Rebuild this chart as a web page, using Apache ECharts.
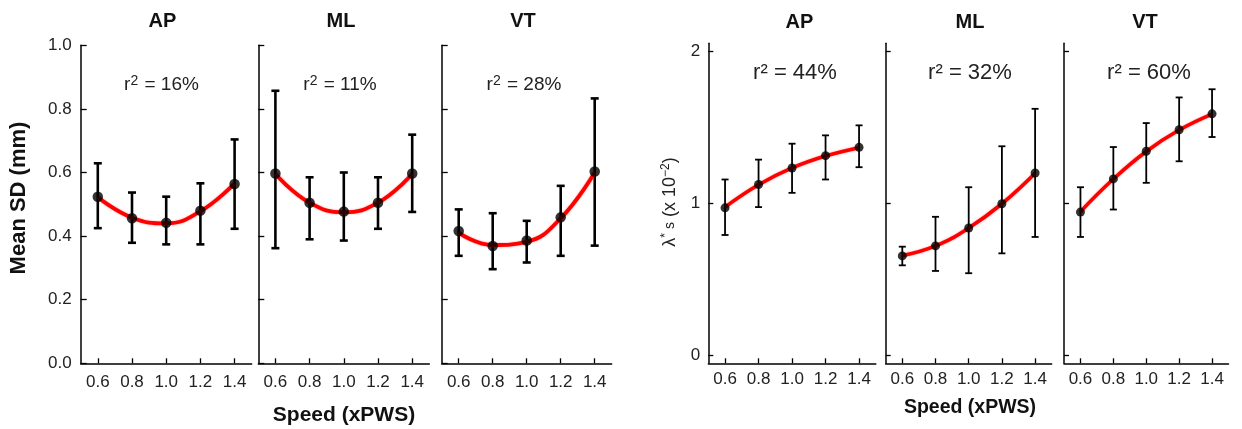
<!DOCTYPE html>
<html>
<head>
<meta charset="utf-8">
<script src="https://cdn.jsdelivr.net/npm/echarts@6/dist/echarts.min.js"></script>
<style>
html,body{margin:0;padding:0;background:#fff;}
#c{width:1242px;height:429px;}
</style>
</head>
<body>
<div id="c"></div>
<script>
// ---------- data ----------
const speeds = [0.6, 0.8, 1.0, 1.2, 1.4];
const xTickLabels = ['0.6', '0.8', '1.0', '1.2', '1.4'];
const leftYTicks = [0, 0.2, 0.4, 0.6, 0.8, 1.0];
const rightYTicks = [0, 1, 2];
const panelTitles = ['AP', 'ML', 'VT'];
const leftR2 = ['16%', '11%', '28%'];
const rightR2 = ['44%', '32%', '60%'];

// Left: Mean SD (mm)
const sdAP_mean = [0.524, 0.456, 0.442, 0.480, 0.564];
const sdAP_hi   = [0.629, 0.537, 0.524, 0.566, 0.704];
const sdAP_lo   = [0.425, 0.379, 0.374, 0.374, 0.423];
const sdAP_fit  = [0.522, 0.458, 0.440, 0.478, 0.566];

const sdML_mean = [0.597, 0.505, 0.477, 0.505, 0.597];
const sdML_hi   = [0.857, 0.585, 0.600, 0.585, 0.719];
const sdML_lo   = [0.362, 0.390, 0.386, 0.423, 0.476];
const sdML_fit  = [0.595, 0.505, 0.475, 0.505, 0.595];

const sdVT_mean = [0.416, 0.369, 0.386, 0.459, 0.603];
const sdVT_hi   = [0.484, 0.472, 0.448, 0.558, 0.833];
const sdVT_lo   = [0.338, 0.296, 0.317, 0.338, 0.370];
const sdVT_fit  = [0.410, 0.372, 0.382, 0.456, 0.600];

// Right: lambda*s (x10^-2)
const lamAP_mean = [0.970, 1.124, 1.233, 1.314, 1.369];
const lamAP_hi   = [1.157, 1.288, 1.393, 1.448, 1.514];
const lamAP_lo   = [0.791, 0.975, 1.069, 1.157, 1.238];
const lamAP_fit  = [0.975, 1.122, 1.233, 1.312, 1.367];

const lamML_mean = [0.653, 0.719, 0.837, 0.997, 1.200];
const lamML_hi   = [0.714, 0.911, 1.106, 1.376, 1.623];
const lamML_lo   = [0.591, 0.554, 0.539, 0.670, 0.778];
const lamML_fit  = [0.655, 0.719, 0.837, 0.997, 1.198];

const lamVT_mean = [0.942, 1.161, 1.343, 1.485, 1.590];
const lamVT_hi   = [1.106, 1.371, 1.529, 1.698, 1.752];
const lamVT_lo   = [0.778, 0.959, 1.135, 1.277, 1.437];
const lamVT_fit  = [0.945, 1.160, 1.342, 1.483, 1.588];

// ---------- layout ----------
const panels = [
  {left: 80.7,  width: 171, top: 45.3, height: 318, side: 'L', mean: sdAP_mean, hi: sdAP_hi, lo: sdAP_lo, fit: sdAP_fit},
  {left: 258.3, width: 171, top: 45.3, height: 318, side: 'L', mean: sdML_mean, hi: sdML_hi, lo: sdML_lo, fit: sdML_fit},
  {left: 441.7, width: 170, top: 45.3, height: 318, side: 'L', mean: sdVT_mean, hi: sdVT_hi, lo: sdVT_lo, fit: sdVT_fit},
  {left: 708.3, width: 167.5, top: 43.3, height: 320, side: 'R', mean: lamAP_mean, hi: lamAP_hi, lo: lamAP_lo, fit: lamAP_fit},
  {left: 885.7, width: 166, top: 43.3, height: 320, side: 'R', mean: lamML_mean, hi: lamML_hi, lo: lamML_lo, fit: lamML_fit},
  {left: 1064,  width: 164.5, top: 43.3, height: 320, side: 'R', mean: lamVT_mean, hi: lamVT_hi, lo: lamVT_lo, fit: lamVT_fit}
];

const FONT = '"Liberation Sans", Arial, Helvetica, sans-serif';

const grids = [], xAxes = [], yAxes = [], series = [];

function errRenderer(capW, lw) {
  return function (params, api) {
    const x = api.value(0), lo = api.value(1), hi = api.value(2);
    const pLo = api.coord([x, lo]);
    const pHi = api.coord([x, hi]);
    const st = {stroke: '#000', lineWidth: lw};
    return {
      type: 'group',
      children: [
        {type: 'line', shape: {x1: pLo[0], y1: pLo[1], x2: pHi[0], y2: pHi[1]}, style: st},
        {type: 'line', shape: {x1: pLo[0] - capW / 2, y1: pLo[1], x2: pLo[0] + capW / 2, y2: pLo[1]}, style: st},
        {type: 'line', shape: {x1: pHi[0] - capW / 2, y1: pHi[1], x2: pHi[0] + capW / 2, y2: pHi[1]}, style: st}
      ]
    };
  };
}

panels.forEach(function (p, i) {
  const isL = p.side === 'L';
  const firstOfGroup = (i === 0 || i === 3);
  grids.push({left: p.left, top: p.top, width: p.width, height: p.height, containLabel: false});
  xAxes.push({
    type: 'value', gridIndex: i, min: 0.5, max: 1.5,
    axisLine: {show: true, onZero: false, lineStyle: {color: '#000', width: 1.5}},
    axisTick: {show: true, inside: true, length: 5, customValues: speeds, lineStyle: {color: '#000', width: 1.3}},
    axisLabel: {
      show: true, customValues: speeds, margin: isL ? 11 : 8,
      color: '#222', fontFamily: FONT, fontSize: 17,
      formatter: function (v) { return xTickLabels[speeds.indexOf(Math.round(v * 10) / 10)] || ''; }
    },
    splitLine: {show: false}
  });
  if (isL) {
    yAxes.push({
      type: 'value', gridIndex: i, min: 0, max: 1, interval: 0.2,
      axisLine: {show: true, onZero: false, lineStyle: {color: '#000', width: 1.5}},
      axisTick: {show: true, inside: true, length: 6, lineStyle: {color: '#000', width: 1.3}},
      axisLabel: {
        show: firstOfGroup, margin: 9, color: '#222', fontFamily: FONT, fontSize: 17,
        formatter: function (v) { return v.toFixed(1); }
      },
      splitLine: {show: false}
    });
  } else {
    yAxes.push({
      type: 'value', gridIndex: i, min: -0.055, max: 2.055,
      axisLine: {show: true, onZero: false, lineStyle: {color: '#000', width: 1.5}},
      axisTick: {show: true, inside: true, length: 5, customValues: rightYTicks, lineStyle: {color: '#000', width: 1.3}},
      axisLabel: {
        show: firstOfGroup, customValues: rightYTicks, margin: 8, color: '#222', fontFamily: FONT, fontSize: 17,
        formatter: function (v) { return String(Math.round(v)); }
      },
      splitLine: {show: false}
    });
  }

  series.push({
    type: 'custom', xAxisIndex: i, yAxisIndex: i,
    renderItem: errRenderer(isL ? 8 : 7, isL ? 2.6 : 1.8),
    encode: {x: 0, y: [1, 2]},
    data: speeds.map(function (s, k) { return [s, p.lo[k], p.hi[k]]; }),
    silent: true, z: 2
  });
  series.push({
    type: 'line', xAxisIndex: i, yAxisIndex: i, smooth: 0.45,
    showSymbol: false, silent: true,
    lineStyle: {color: '#ff0000', width: isL ? 3.8 : 3.6, shadowColor: 'rgba(255,0,0,0.45)', shadowBlur: 2},
    data: speeds.map(function (s, k) { return [s, p.fit[k]]; }),
    z: 3
  });
  series.push({
    type: 'scatter', xAxisIndex: i, yAxisIndex: i,
    symbol: 'circle', symbolSize: isL ? 10.5 : 9,
    itemStyle: {color: '#000'}, silent: true,
    data: speeds.map(function (s, k) { return [s, p.mean[k]]; }),
    z: 4
  });
});

// ---------- texts ----------
const titleX = [162.5, 341, 523, 799.5, 970, 1145];
const titleY = [21, 21, 21, 22.5, 22.5, 22.5];
const r2X = [161.5, 340, 524, 795, 970, 1149];
const r2Y = [85, 85, 85, 73, 73, 73];

const graphics = [];
for (let i = 0; i < 6; i++) {
  graphics.push({
    type: 'text', x: titleX[i], y: titleY[i], silent: true,
    style: {text: panelTitles[i % 3], fill: '#111', font: 'bold 20px ' + FONT, align: 'center', verticalAlign: 'middle'}
  });
}
for (let i = 0; i < 3; i++) {
  graphics.push({
    type: 'text', x: r2X[i], y: r2Y[i], silent: true,
    style: {
      text: '{a|r}{s|2}{a| = ' + leftR2[i] + '}',
      font: '19px ' + FONT, fill: '#222',
      align: 'center', verticalAlign: 'middle',
      rich: {
        a: {fill: '#222', font: '19px ' + FONT, fontSize: 19},
        s: {fill: '#222', font: '14px ' + FONT, fontSize: 14, padding: [0, 1, 8, 0]}
      }
    }
  });
}
for (let i = 0; i < 3; i++) {
  graphics.push({
    type: 'text', x: r2X[i + 3], y: r2Y[i + 3], silent: true,
    style: {text: 'r\u00b2 = ' + rightR2[i], fill: '#222', font: '22px ' + FONT, align: 'center', verticalAlign: 'middle'}
  });
}
// axis names
graphics.push({
  type: 'text', x: 19, y: 198, rotation: Math.PI / 2, silent: true,
  style: {text: 'Mean SD (mm)', fill: '#111', font: 'bold 22px ' + FONT, align: 'center', verticalAlign: 'middle'}
});
graphics.push({
  type: 'text', x: 670, y: 202, rotation: Math.PI / 2, silent: true,
  style: {
    text: '{n|\u03bb}{sup|*}{sub| s}{n| (x 10}{sup|\u22122}{n|)}',
    font: '18px ' + FONT, fill: '#222',
    align: 'center', verticalAlign: 'middle',
    rich: {
      n: {fill: '#222', font: '18px ' + FONT, fontSize: 18},
      sup: {fill: '#222', font: '12px ' + FONT, fontSize: 12, padding: [0, 0, 8, 0]},
      sub: {fill: '#222', font: '14px ' + FONT, fontSize: 14}
    }
  }
});
graphics.push({
  type: 'text', x: 344, y: 415, silent: true,
  style: {text: 'Speed (xPWS)', fill: '#111', font: 'bold 21px ' + FONT, align: 'center', verticalAlign: 'middle'}
});
graphics.push({
  type: 'text', x: 970, y: 408, silent: true,
  style: {text: 'Speed (xPWS)', fill: '#111', font: 'bold 19.5px ' + FONT, align: 'center', verticalAlign: 'middle'}
});

const chart = echarts.init(document.getElementById('c'), null, {renderer: 'canvas'});
chart.setOption({
  animation: false,
  backgroundColor: '#fff',
  grid: grids,
  xAxis: xAxes,
  yAxis: yAxes,
  series: series,
  graphic: graphics
});
</script>
</body>
</html>
